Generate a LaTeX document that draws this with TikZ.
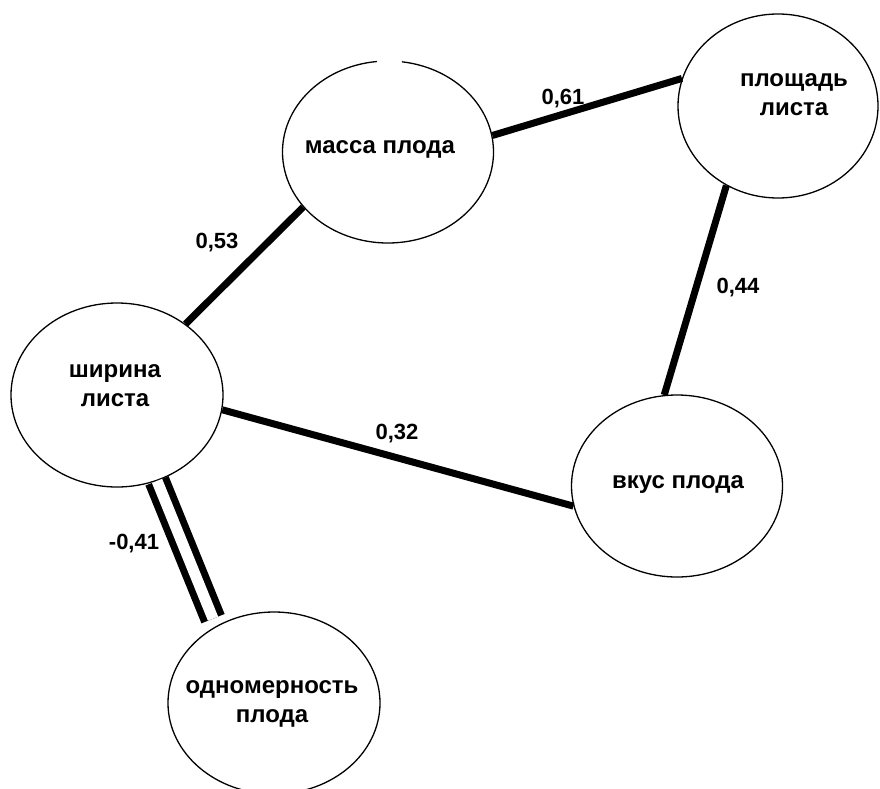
\documentclass[tikz,border=0pt]{standalone}
\usepackage{fontspec}
\setmainfont{Liberation Sans}
\usetikzlibrary{shapes.geometric}
\tikzset{
  ell/.style={ellipse, draw, line width=1.3pt, inner sep=0pt},
  conn/.style={line width=7pt},
  txt/.style={font=\bfseries\fontsize{24}{29}\selectfont, align=center, inner sep=0pt},
  lbl/.style={font=\bfseries\fontsize{22}{26}\selectfont, inner sep=0pt},
}
\begin{document}
\begin{tikzpicture}[x=1pt,y=-1pt]
\useasboundingbox (0,0) rectangle (880,789);
% ellipses
\node[ell, draw=none, minimum width=211pt, minimum height=182pt] (masse) at (388,152) {};
\draw[line width=1.3pt] (masse.center) ++(96:105.5pt and 91pt)
  arc[start angle=96, end angle=442.4, x radius=105.5pt, y radius=91pt];
\node[ell, minimum width=200pt, minimum height=184pt] (plosh) at (778,106) {};
\node[ell, minimum width=212pt, minimum height=184pt] (shir) at (117,395) {};
\node[ell, minimum width=211pt, minimum height=182pt] (vkus) at (677,486) {};
\node[ell, minimum width=212pt, minimum height=182pt] (odno) at (274,703) {};
% texts
\node[txt, anchor=base] (masse-t) at (380,153) {масса плода};
\node[txt] (plosh-t) at (794,95) {площадь\\листа};
\node[txt] (shir-t) at (115,386) {ширина\\листа};
\node[txt, anchor=base] (vkus-t) at (678,488) {вкус плода};
\node[txt] (odno-t) at (272,704) {одномерность\\плода};
% connectors
\draw[conn] (masse.9) -- (plosh.164);
\draw[conn] (shir.46) -- (masse.213);
\draw[conn] (plosh.237) -- (vkus.98);
\draw[conn] (shir.-8) -- (vkus.191);
\draw[conn, double, double distance=11pt, shorten >=8pt] (shir.-65) -- (odno.127);
% labels
\node[lbl] (l61) at (563,99) {0,61};
\node[lbl] (l53) at (217,243) {0,53};
\node[lbl] (l44) at (738,288) {0,44};
\node[lbl] (l32) at (397,434) {0,32};
\node[lbl] (l41) at (134,544) {-0,41};
\end{tikzpicture}
\end{document}
